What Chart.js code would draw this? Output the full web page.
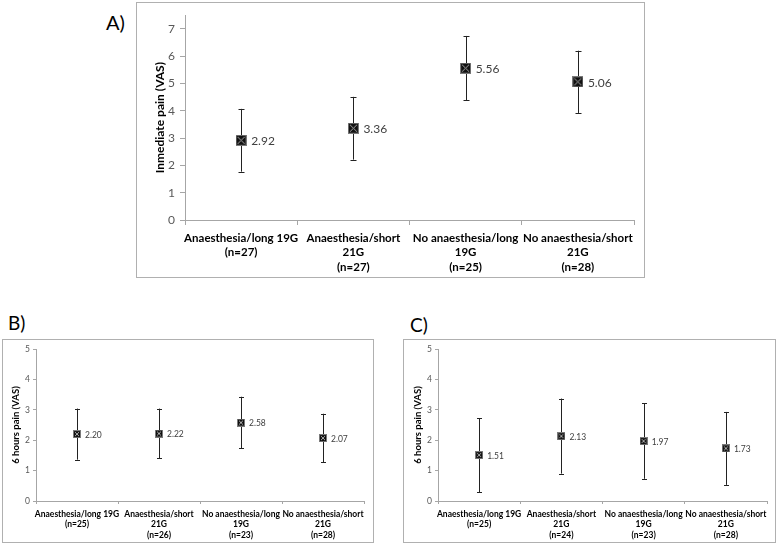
<!DOCTYPE html>
<html><head><meta charset="utf-8">
<script src="https://cdn.jsdelivr.net/npm/chart.js@4"></script>
<style>
html,body{margin:0;padding:0;background:#fff}
body{width:778px;height:546px;position:relative;overflow:hidden;font-family:Lato,sans-serif}
.box{position:absolute;border:1px solid #b0b0b0;box-sizing:border-box;background:#fff}
.box canvas{position:absolute;left:0;top:0}
.lbl{position:absolute;font-family:Lato,sans-serif;color:#000;line-height:1}
</style></head><body>
<div class="lbl" style="left:106px;top:12px;font-size:20px">A)</div>
<div class="lbl" style="left:8px;top:313px;font-size:19px">B)</div>
<div class="lbl" style="left:410px;top:315px;font-size:19px">C)</div>
<div class="box" style="left:136px;top:2px;width:509px;height:276px"><canvas id="ca" width="507" height="274"></canvas></div>
<div class="box" style="left:2px;top:339px;width:372px;height:204px"><canvas id="cb" width="370" height="202"></canvas></div>
<div class="box" style="left:403px;top:339px;width:373px;height:204px"><canvas id="cc" width="371" height="202"></canvas></div>
<script>
// ---- data ----
const categoriesA = [['Anaesthesia/long 19G','(n=27)'],['Anaesthesia/short','21G','(n=27)'],['No anaesthesia/long','19G','(n=25)'],['No anaesthesia/short','21G','(n=28)']];
const meanA = [2.92, 3.36, 5.56, 5.06];
const lowA  = [1.77, 2.21, 4.38, 3.92];
const highA = [4.07, 4.51, 6.74, 6.20];

const categoriesB = [['Anaesthesia/long 19G','(n=25)'],['Anaesthesia/short','21G','(n=26)'],['No anaesthesia/long','19G','(n=23)'],['No anaesthesia/short','21G','(n=28)']];
const meanB = [2.20, 2.22, 2.58, 2.07];
const lowB  = [1.36, 1.40, 1.73, 1.27];
const highB = [3.04, 3.04, 3.43, 2.87];

const categoriesC = [['Anaesthesia/long 19G','(n=25)'],['Anaesthesia/short','21G','(n=24)'],['No anaesthesia/long','19G','(n=23)'],['No anaesthesia/short','21G','(n=28)']];
const meanC = [1.51, 2.13, 1.97, 1.73];
const lowC  = [0.29, 0.90, 0.73, 0.53];
const highC = [2.73, 3.37, 3.22, 2.93];

const yTitleA = 'Inmediate pain (VAS)';
const yTitleBC = '6 hours pain (VAS)';

// ---- helpers ----
function makeMarker(s){
  const c=document.createElement('canvas'); c.width=s; c.height=s;
  const g=c.getContext('2d');
  g.fillStyle='#111'; g.fillRect(0,0,s,s);
  g.strokeStyle='#7a7a7a'; g.lineWidth=1; g.strokeRect(0.5,0.5,s-1,s-1);
  g.strokeStyle='#a8a8a8'; g.beginPath();
  g.moveTo(2,2); g.lineTo(s-2,s-2); g.moveTo(s-2,2); g.lineTo(2,s-2); g.stroke();
  return c;
}

const errorBars = {
  id:'errorBars',
  beforeDatasetsDraw(chart, args, o){
    const meta=chart.getDatasetMeta(0), ys=chart.scales.y, ctx=chart.ctx;
    ctx.save(); ctx.strokeStyle=o.color; ctx.lineWidth=1;
    meta.data.forEach((el,i)=>{
      const x=Math.round(el.x)+0.5;
      const y1=ys.getPixelForValue(o.low[i]), y2=ys.getPixelForValue(o.high[i]);
      ctx.beginPath();
      ctx.moveTo(x,y1); ctx.lineTo(x,y2);
      ctx.moveTo(x-o.cap,Math.round(y1)+0.5); ctx.lineTo(x+o.cap,Math.round(y1)+0.5);
      ctx.moveTo(x-o.cap,Math.round(y2)+0.5); ctx.lineTo(x+o.cap,Math.round(y2)+0.5);
      ctx.stroke();
    });
    ctx.restore();
  }
};
const valueLabels = {
  id:'valueLabels',
  afterDatasetsDraw(chart, args, o){
    const meta=chart.getDatasetMeta(0), ctx=chart.ctx, data=chart.data.datasets[0].data;
    ctx.save(); ctx.fillStyle='#404040'; ctx.font=o.size+'px Lato'; ctx.textAlign='left'; ctx.textBaseline='middle';
    meta.data.forEach((el,i)=>{ ctx.fillText(data[i].toFixed(2), el.x+o.dx, el.y+1); });
    ctx.restore();
  }
};

function build(id, cats, mean, low, high, title, p){
  return new Chart(document.getElementById(id), {
    type:'line',
    data:{labels:cats, datasets:[{data:mean, showLine:false, pointStyle:makeMarker(p.marker), pointRadius:p.marker/2, borderColor:'#000', backgroundColor:'#000'}]},
    options:{
      responsive:false, animation:false, devicePixelRatio:1,
      layout:{padding:{left:0,right:p.padR,top:p.padT,bottom:0}},
      plugins:{legend:{display:false}, tooltip:{enabled:false},
        errorBars:{low:low, high:high, cap:p.cap, color:'#222'},
        valueLabels:{size:p.valSize, dx:p.valDx}},
      scales:{
        x:{type:'category', offset:true,
          grid:{display:true, offset:true, drawOnChartArea:false, drawTicks:true, tickLength:p.tick, color:'#a6a6a6'},
          border:{display:true, color:'#a6a6a6'},
          ticks:{autoSkip:false, maxRotation:0, minRotation:0, padding:p.xPad, color:'#000',
            font:{family:'Lato', weight:'bold', size:p.xSize, lineHeight:p.xLH}},
          afterFit(s){ s.height=p.xH; }
        },
        y:{min:0, max:p.yMax,
          grid:{display:true, drawOnChartArea:false, drawTicks:true, tickLength:p.tick, color:'#a6a6a6'},
          border:{display:true, color:'#a6a6a6'},
          ticks:{stepSize:1, padding:p.yPad, color:'#595959', font:{family:'Lato', size:p.ySize}},
          afterBuildTicks(s){ s.ticks = s.ticks.filter(t=>Number.isInteger(t.value)); },
          title:{display:true, text:title, color:'#000', padding:{top:p.tPad,bottom:0},
            font:{family:'Lato', weight:'bold', size:p.tSize, lineHeight:1.2}},
          afterFit(s){ s.width=p.yW; }
        }
      }
    },
    plugins:[errorBars, valueLabels]
  });
}

build('ca', categoriesA, meanA, lowA, highA, yTitleA,
  {padR:10, padT:10, yW:48, xH:57, yMax:7.5, tick:5, xPad:6, xSize:11.5, xLH:14.5/11.5, yPad:5, ySize:12,
   tPad:16, tSize:12, marker:11, cap:3, valSize:12, valDx:10});
build('cb', categoriesB, meanB, lowB, highB, yTitleBC,
  {padR:9, padT:9, yW:33, xH:41, yMax:5, tick:3, xPad:5, xSize:8.5, xLH:10.5/8.5, yPad:3, ySize:8.5,
   tPad:7, tSize:9.5, marker:8, cap:2.5, valSize:8.5, valDx:8});
build('cc', categoriesC, meanC, lowC, highC, yTitleBC,
  {padR:8, padT:9, yW:34, xH:41, yMax:5, tick:3, xPad:5, xSize:8.5, xLH:10.5/8.5, yPad:3, ySize:8.5,
   tPad:8, tSize:9.5, marker:8, cap:2.5, valSize:8.5, valDx:8});
</script>
</body></html>
